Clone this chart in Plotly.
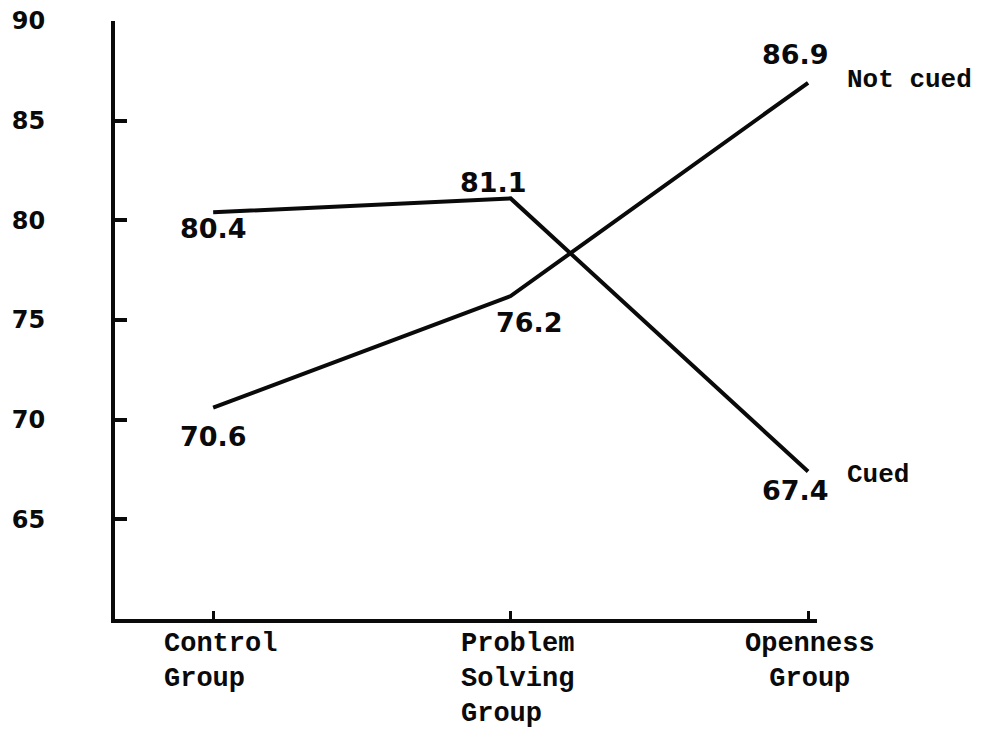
import plotly.graph_objects as go

categories = ["Control<br>Group", "Problem<br>Solving<br>Group", "Openness<br>Group"]
cued = [80.4, 81.1, 67.4]
not_cued = [70.6, 76.2, 86.9]
y_ticks = [65, 70, 75, 80, 85, 90]
series_names = ["Cued", "Not cued"]

x_idx = list(range(len(categories)))
INK = "#0a0a0a"
NUM_FONT = dict(family="DejaVu Sans", size=27, color=INK, weight="bold")
TICK_FONT = dict(family="DejaVu Sans", size=24, color=INK, weight="bold")
TYPE_FONT = dict(family="Liberation Mono", size=27, color=INK, weight="bold")

fig = go.Figure()
for name, vals in zip(series_names, [cued, not_cued]):
    fig.add_trace(go.Scatter(x=x_idx, y=vals, mode="lines", name=name,
                             line=dict(color=INK, width=4), showlegend=False))

# value labels (offsets in px relative to each point)
cued_off = [(0, -16), (-17, 16), (-13, -19)]
not_off = [(0, -29), (19, -26), (-13, 28)]
for vals, offs in [(cued, cued_off), (not_cued, not_off)]:
    for i, (v, (dx, dy)) in enumerate(zip(vals, offs)):
        fig.add_annotation(x=i, y=v, xref="x", yref="y", text=f"{v:.1f}",
                           showarrow=False, xshift=dx, yshift=dy, font=NUM_FONT)

# series name labels at the right end
name_dy = {"Cued": -4, "Not cued": 3}
for name, vals in zip(series_names, [cued, not_cued]):
    fig.add_annotation(x=x_idx[-1], y=vals[-1], xref="x", yref="y", text=name,
                       showarrow=False, xanchor="left", xshift=37, yshift=name_dy[name],
                       font=dict(family="Liberation Mono", size=26, color=INK, weight="bold"))

# category labels
for i, c in enumerate(categories):
    fig.add_annotation(x=i, y=0, xref="x", yref="paper", text=c, showarrow=False,
                       xanchor="center", yanchor="top", yshift=-9, borderpad=0,
                       xshift=7 if i < 2 else 2, align="left" if i < 2 else "center",
                       font=TYPE_FONT)

fig.update_layout(
    template="none",
    width=974, height=723,
    margin=dict(l=107, r=165, t=13, b=112),
    paper_bgcolor="white", plot_bgcolor="white",
    xaxis=dict(range=[-0.33, 2.03], showgrid=False, zeroline=False, automargin=False,
               showline=True, linecolor=INK, linewidth=4,
               tickvals=x_idx, ticktext=["", "", ""], ticks="inside",
               ticklen=8, tickwidth=3, tickcolor=INK),
    yaxis=dict(range=[60, 90], showgrid=False, zeroline=False, automargin=False,
               showline=True, linecolor=INK, linewidth=4,
               tickvals=y_ticks, ticktext=[str(t) for t in y_ticks],
               ticks="inside", ticklen=12, tickwidth=4, tickcolor=INK,
               tickfont=TICK_FONT, ticklabelstandoff=61, ticklabeloverflow="allow"),
)

fig.write_html("out.html")
